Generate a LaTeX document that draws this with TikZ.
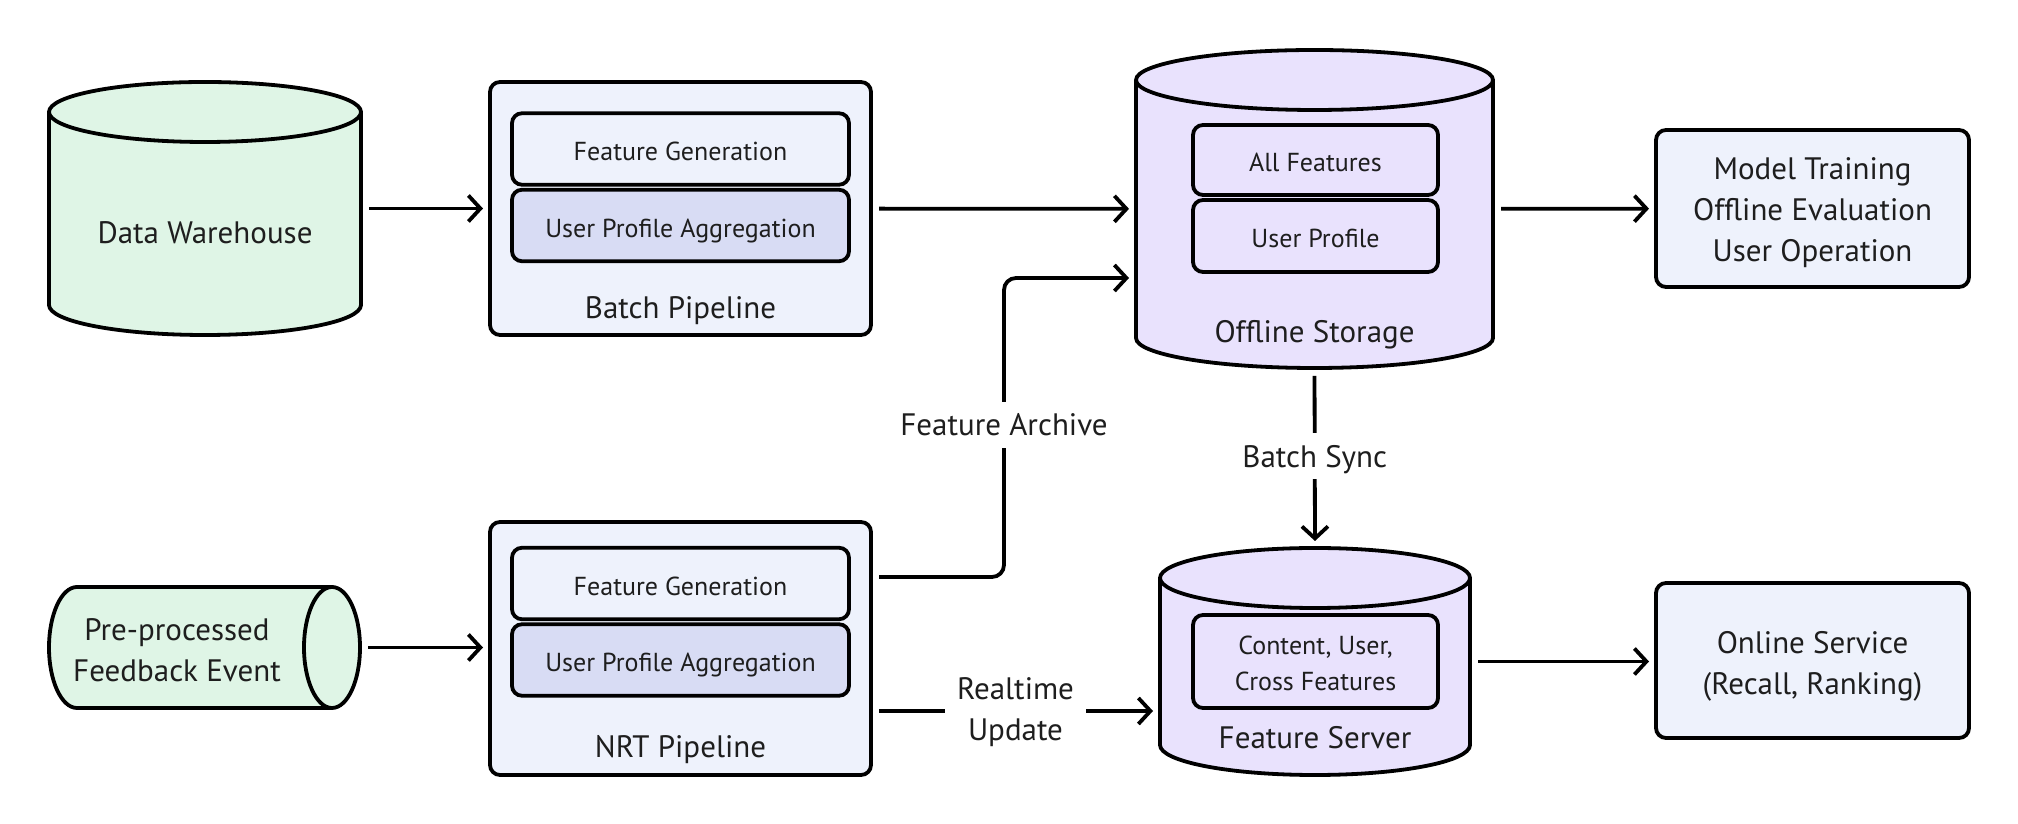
\documentclass[tikz,border=0pt]{standalone}
\usepackage{fontspec}
\setmainfont{PT Sans}
\usetikzlibrary{arrows.meta,calc}
\definecolor{grn}{HTML}{DFF5E6}
\definecolor{lav}{HTML}{E9E2FD}
\definecolor{boxf}{HTML}{EEF2FC}
\definecolor{upaf}{HTML}{D8DCF4}
\definecolor{txt}{HTML}{1E1E1E}
\newcommand\vcyl[3]{%
 \draw[line width=1.9pt,fill=#3] let \p1=(#1.north west), \p2=(#1.south east), \n1={0.5*(\x2-\x1)} in
  (\x1,\y1-#2) -- (\x1,\y2+#2) arc[start angle=180,end angle=360,x radius=\n1,y radius=#2]
  -- (\x2,\y1-#2) arc[start angle=0,end angle=180,x radius=\n1,y radius=#2] -- cycle;
 \draw[line width=1.9pt] let \p1=(#1.north west), \p2=(#1.south east), \n1={0.5*(\x2-\x1)} in
  (\x1,\y1-#2) arc[start angle=180,end angle=360,x radius=\n1,y radius=#2];}
\newcommand\hcyl[3]{%
 \draw[line width=1.9pt,fill=#3] let \p1=(#1.north west), \p2=(#1.south east), \n1={0.5*(\y1-\y2)} in
  (\x1+#2,\y1) -- (\x2-#2,\y1) arc[start angle=90,end angle=-90,x radius=#2,y radius=\n1]
  -- (\x1+#2,\y2) arc[start angle=270,end angle=90,x radius=#2,y radius=\n1] -- cycle;
 \draw[line width=1.9pt] let \p1=(#1.north west), \p2=(#1.south east), \n1={0.5*(\y1-\y2)} in
  (\x2-#2,\y1) arc[start angle=90,end angle=270,x radius=#2,y radius=\n1];}
\begin{document}
\begin{tikzpicture}[x=0.5pt,y=0.5pt,
 every node/.style={text=txt},
 base/.style={inner sep=0pt,outer sep=0pt},
 bigf/.style={font=\fontsize{15.5}{20.5}\selectfont,align=center},
 smallf/.style={font=\fontsize{13}{18}\selectfont,align=center},
 one/.style={text height=10.85pt,text depth=0pt},
 ones/.style={text height=12pt,text depth=0pt},
 box/.style={base,draw,line width=1.9pt,rounded corners=5pt,fill=boxf},
 inbox/.style={box,smallf,ones,minimum width=168.5pt,minimum height=35.75pt},
 cylbox/.style={box,smallf,fill=lav,minimum width=122.5pt},
 lbl/.style={bigf,fill=white,inner sep=6pt},
 arr/.style={-{Straight Barb[length=6pt,width=13pt]},line width=1.9pt,shorten >=3.5pt,shorten <=4pt}]
\useasboundingbox (0,0) rectangle (2018,824);
% Data warehouse
\node[base,minimum width=156pt,minimum height=126.5pt] (dw) at (205,615.5) {};
\vcyl{dw}{15pt}{grn}
\node[bigf,one] (dwl) at (205,591) {Data Warehouse};
% Batch pipeline
\node[box,minimum width=190.5pt,minimum height=126.5pt] (batch) at (680.5,615.5) {};
\node[inbox] (bfg) at (680.5,675) {Feature Generation};
\node[inbox,fill=upaf] (bupa) at (680.5,598.5) {User Profile Aggregation};
\node[bigf,one] (bl) at (680.5,516.4) {Batch Pipeline};
% Offline storage
\node[base,minimum width=178.5pt,minimum height=159pt] (off) at (1314.5,615) {};
\vcyl{off}{15pt}{lav}
\node[cylbox,ones,minimum height=35pt] (af) at (1315.5,664) {All Features};
\node[cylbox,ones,minimum height=36pt] (up) at (1315.5,588) {User Profile};
\node[bigf,one] (offl) at (1314.5,492) {Offline Storage};
% Model training
\node[box,bigf,text height=53.5pt,text depth=0pt,minimum width=156.5pt,minimum height=78.5pt] (model) at (1812.5,615.5) {Model Training\\Offline Evaluation\\User Operation};
% Pre-processed
\node[base,minimum width=155.5pt,minimum height=60.5pt] (pre) at (204.5,176.5) {};
\hcyl{pre}{14pt}{grn}
\node[bigf] (prel) at (177,174) {Pre-processed\\Feedback Event};
% NRT pipeline
\node[box,minimum width=190.5pt,minimum height=126.5pt] (nrt) at (680.5,175.5) {};
\node[inbox] (nfg) at (680.5,240.5) {Feature Generation};
\node[inbox,fill=upaf] (nupa) at (680.5,164) {User Profile Aggregation};
\node[bigf,one] (nl) at (680.5,77.5) {NRT Pipeline};
% Feature server
\node[base,minimum width=155pt,minimum height=113.5pt] (fs) at (1315,162.5) {};
\vcyl{fs}{15pt}{lav}
\node[cylbox,text height=28.6pt,text depth=0pt,minimum height=46.5pt] (cf) at (1315.5,162.5) {Content, User,\\Cross Features};
\node[bigf,one] (fsl) at (1315,86.5) {Feature Server};
% Online service
\node[box,bigf,text height=34.5pt,text depth=0pt,minimum width=156.5pt,minimum height=77.5pt] (online) at (1812.5,163.5) {Online Service\\(Recall, Ranking)};
% connectors
\draw[arr] (dw) -- (batch);
\draw[arr] (batch) -- (off);
\draw[arr] (off) -- (model);
\draw[arr] (pre.east) -- (pre.east -| nrt.west);
\draw[arr] (fs.east) -- (fs.east -| online.west);
\draw[arr] (off.south) -- node[lbl,one,pos=0.49] {Batch Sync} (fs.north);
\coordinate (fa) at (1004,399);
\draw[arr,rounded corners=6pt] ([yshift=35.75pt]nrt.east) -| (fa) |- ([yshift=-34.5pt]off.west);
\node[lbl,one] (fal) at (fa) {Feature Archive};
\draw[arr] ([yshift=-31.25pt]nrt.east) -- node[lbl,text height=30pt,text depth=0pt] {Realtime\\Update} ([yshift=-31.25pt]nrt.east -| fs.west);
\end{tikzpicture}
\end{document}
